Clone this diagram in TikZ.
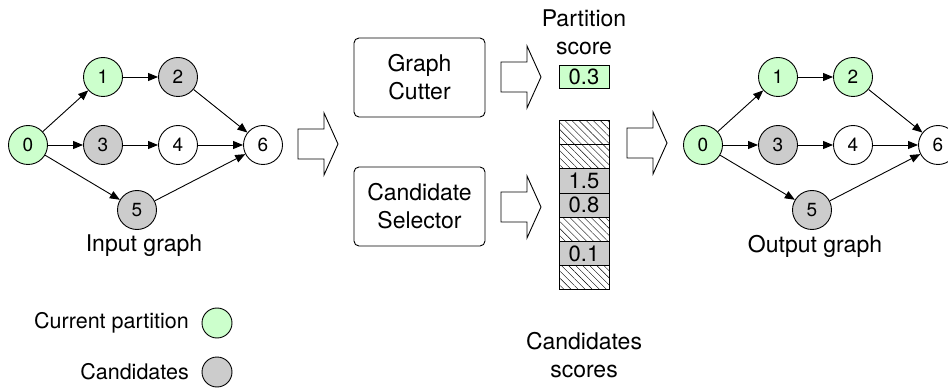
\documentclass[tikz,border=0pt]{standalone}
\usepackage{fontspec}
\setmainfont{TeX Gyre Heros}
\usepackage{tikz}
\usetikzlibrary{arrows.meta,patterns.meta}
\definecolor{partgreen}{RGB}{204,255,204}
\definecolor{candgray}{RGB}{204,204,204}
\tikzset{
    vertex/.style = {draw, circle, minimum size=39pt, inner sep=0pt, font=\fontsize{19}{22}\selectfont},
    in-part/.style = {vertex, fill=partgreen},
    cand/.style = {vertex, fill=candgray},
    edge/.style = {-{Triangle[length=10pt,width=8pt]}},
    label-text/.style = {font=\fontsize{23}{28}\selectfont, align=center},
    rounded-box/.style = {draw, rectangle, rounded corners=5pt, minimum width=131pt, minimum height=79pt, label-text},
    score-cell/.style = {draw, rectangle, minimum width=50pt, minimum height=24.2pt, inner sep=0pt, font=\fontsize{22}{22}\selectfont},
    hatched/.style = {score-cell, pattern={Lines[angle=-45, distance=5pt, line width=0.4pt]}},
    legend-dot/.style = {draw, circle, minimum size=30pt, inner sep=0pt},
    fat-arrow/.pic = {\draw[fill=white] (-20,-15) -- (6,-15) -- (6,-31) -- (20,0) -- (6,31) -- (6,15) -- (-20,15) -- cycle;},
}

\begin{document}
\begin{tikzpicture}[x=1pt, y=-1pt, line width=0.9pt]
\useasboundingbox (0,0) rectangle (948,390);

% input graph
\node[in-part] (a0) at (28,145) {0};
\node[in-part] (a1) at (103,77) {1};
\node[cand] (a2) at (178,77) {2};
\node[cand] (a3) at (103,145) {3};
\node[vertex] (a4) at (178,145) {4};
\node[cand] (a5) at (137,210) {5};
\node[vertex] (a6) at (263,145) {6};
\draw[edge] (a0) -- (a1);
\draw[edge] (a1) -- (a2);
\draw[edge] (a2) -- (a6);
\draw[edge] (a0) -- (a3);
\draw[edge] (a3) -- (a4);
\draw[edge] (a4) -- (a6);
\draw[edge] (a0) -- (a5);
\draw[edge] (a5) -- (a6);
\node[label-text] (in-title) at (144,246) {Input graph};

\pic at (318,144) {fat-arrow};

% cutter and selector
\node[rounded-box] (cutter) at (419.5,77.5) {Graph\\Cutter};
\node[rounded-box] (selector) at (419.5,206.5) {Candidate\\Selector};
\pic at (521,77) {fat-arrow};
\pic at (521,207) {fat-arrow};

% scores
\node[label-text] (part-title) at (584,32) {Partition\\score};
\node[score-cell, fill=partgreen, minimum height=23pt] (part-score) at (584,77) {0.3};
\node[hatched] (c1) at (584,132.6) {};
\node[hatched] (c2) at (584,156.8) {};
\node[score-cell, fill=candgray] (c3) at (584,181.0) {1.5};
\node[score-cell, fill=candgray] (c4) at (584,205.2) {0.8};
\node[hatched] (c5) at (584,229.4) {};
\node[score-cell, fill=candgray] (c6) at (584,253.6) {0.1};
\node[hatched] (c7) at (584,277.8) {};
\node[label-text] (cand-title) at (584,355) {Candidates\\scores};

\pic at (647,143) {fat-arrow};

% output graph
\node[in-part] (b0) at (703,145) {0};
\node[in-part] (b1) at (778,77) {1};
\node[in-part] (b2) at (853,77) {2};
\node[cand] (b3) at (778,145) {3};
\node[vertex] (b4) at (853,145) {4};
\node[cand] (b5) at (812,210) {5};
\node[vertex] (b6) at (938,145) {6};
\draw[edge] (b0) -- (b1);
\draw[edge] (b1) -- (b2);
\draw[edge] (b2) -- (b6);
\draw[edge] (b0) -- (b3);
\draw[edge] (b3) -- (b4);
\draw[edge] (b4) -- (b6);
\draw[edge] (b0) -- (b5);
\draw[edge] (b5) -- (b6);
\node[label-text] (out-title) at (815,246) {Output graph};

% legend
\node[legend-dot, fill=partgreen] (leg-part) at (217,323) {};
\node[legend-dot, fill=candgray] (leg-cand) at (217,372) {};
\node[label-text, anchor=east, font=\fontsize{21.5}{24}\selectfont] at ([xshift=-9pt]leg-part.west) {Current partition};
\node[label-text, anchor=east, font=\fontsize{21.5}{24}\selectfont] at ([xshift=-9pt]leg-cand.west) {Candidates};
\end{tikzpicture}
\end{document}
